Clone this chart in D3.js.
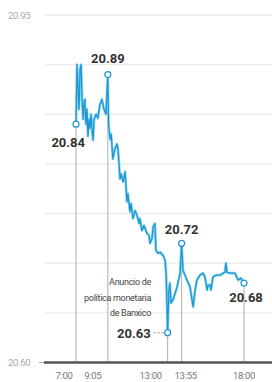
<!DOCTYPE html>
<html><head><meta charset="utf-8">
<script src="https://cdn.jsdelivr.net/npm/d3@7"></script>
<style>
html,body{margin:0;padding:0;background:#fff;}
svg{display:block;}
text{font-family:Roboto, "Liberation Sans", sans-serif;}
</style></head>
<body>
<div id="chart"></div>
<script>
// ---- data ----
const times = ["7:00","7:04","7:08","7:12","7:16","7:20","7:24","7:28","7:31","7:35","7:39","7:43","7:47","7:51","7:55","7:59",
"8:03","8:07","8:11","8:19","8:26","8:34","8:42","8:50","8:58","9:05","9:08","9:14","9:18","9:25","9:33","9:41","9:45","9:53","9:57",
"10:05","10:13","10:20","10:24","10:32","10:36","10:44","10:52","11:00","11:08","11:11","11:19","11:27","11:39","11:47","11:51","11:59",
"12:03","12:10","12:14","12:22","12:30","12:42","12:50","12:54","12:58","13:00","13:05","13:09","13:13","13:21","13:37","13:49","13:55",
"14:00","14:08","14:16","14:28","14:40","14:48","14:55","15:07","15:19","15:27","15:35","15:39","15:47","15:50","15:58","16:10","16:26",
"16:38","16:45","16:49","16:53","17:05","17:25","17:37","17:48","18:00","18:12"];
const values = [20.84,20.90,20.875,20.855,20.895,20.90,20.865,20.845,20.86,20.865,20.84,20.855,20.828,20.845,20.836,20.85,
20.834,20.824,20.845,20.85,20.846,20.86,20.865,20.855,20.85,20.89,20.84,20.825,20.83,20.805,20.815,20.82,20.815,20.785,20.79,
20.782,20.792,20.762,20.77,20.752,20.76,20.745,20.753,20.748,20.74,20.745,20.733,20.738,20.73,20.728,20.72,20.725,
20.737,20.74,20.713,20.71,20.711,20.708,20.703,20.69,20.653,20.63,20.673,20.68,20.66,20.663,20.676,20.69,20.72,
20.693,20.688,20.683,20.676,20.656,20.673,20.683,20.688,20.69,20.686,20.673,20.678,20.678,20.673,20.686,20.688,20.688,
20.69,20.691,20.70,20.691,20.69,20.69,20.683,20.685,20.68,20.68];
const markTimes = ["7:00","9:05","13:00","13:55","18:00"];
const markValues = [20.84,20.89,20.63,20.72,20.68];
const markLabels = ["20.84","20.89","20.63","20.72","20.68"];
const yTicks = [20.60,20.65,20.70,20.75,20.80,20.85,20.90,20.95];
const yTickLabels = ["20.60","20.95"];
const annotation = ["Anuncio de","política monetaria","de Banxico"];

// ---- layout ----
const W = 272, H = 382;
const parse = d3.timeParse("%H:%M");
const x = d3.scaleTime().domain([parse("7:00"), parse("18:00")]).range([76, 244]);
const y = d3.scaleLinear().domain([20.60, 20.95]).range([362.5, 15]);
const svg = d3.select("#chart").append("svg").attr("width", W).attr("height", H);

// gridlines
svg.append("g").selectAll("line").data(yTicks.slice(1)).join("line")
  .attr("x1", 45).attr("x2", W).attr("y1", d => y(d)).attr("y2", d => y(d))
  .attr("stroke", "#ececec").attr("stroke-width", 1.4);

// y labels
svg.append("g").selectAll("text").data(yTickLabels).join("text")
  .attr("x", 8).attr("y", d => y(+d) + 3.5)
  .attr("font-size", 9.5).attr("fill", "#a8a8a8").attr("letter-spacing", -0.3)
  .text(d => d);
svg.append("line").attr("x1", 39).attr("x2", 44).attr("y1", y(20.60)).attr("y2", y(20.60))
  .attr("stroke", "#aaa").attr("stroke-width", 1);

// vertical drop lines
const marks = markTimes.map((t, i) => ({t: parse(t), v: markValues[i], label: markLabels[i], name: t}));
svg.append("g").selectAll("line").data(marks).join("line")
  .attr("x1", d => x(d.t)).attr("x2", d => x(d.t))
  .attr("y1", d => y(d.v)).attr("y2", y(20.60))
  .attr("stroke", "#9a9a9a").attr("stroke-width", 0.8);

// baseline
svg.append("line").attr("x1", 44).attr("x2", W).attr("y1", y(20.60)).attr("y2", y(20.60))
  .attr("stroke", "#555").attr("stroke-width", 2.6);

// x labels
const xLabelShift = {"7:00": -12, "9:05": -15, "13:00": -17, "13:55": 4, "18:00": 0};
svg.append("g").selectAll("text").data(marks).join("text")
  .attr("x", d => x(d.t) + xLabelShift[d.name]).attr("y", 379)
  .attr("text-anchor", "middle").attr("font-size", 9.5).attr("fill", "#777")
  .attr("letter-spacing", -0.3)
  .text(d => d.name);

// series line
const data = times.map((t, i) => ({t: parse(t), v: values[i]}));
const line = d3.line().x(d => x(d.t)).y(d => y(d.v));
svg.append("path").datum(data).attr("d", line)
  .attr("fill", "none").attr("stroke", "#7fd3f2").attr("stroke-width", 2.6).attr("stroke-linejoin", "round");
svg.append("path").datum(data).attr("d", line)
  .attr("fill", "none").attr("stroke", "#1e95d2").attr("stroke-width", 1.2).attr("stroke-linejoin", "round");

// dashed connector for 20.63
const m63 = marks[2];
svg.append("line").attr("x1", x(m63.t) - 14).attr("x2", x(m63.t) - 3)
  .attr("y1", y(m63.v)).attr("y2", y(m63.v))
  .attr("stroke", "#888").attr("stroke-width", 0.9).attr("stroke-dasharray", "2,2");

// circles
svg.append("g").selectAll("circle").data(marks).join("circle")
  .attr("cx", d => x(d.t)).attr("cy", d => y(d.v)).attr("r", 3)
  .attr("fill", "#fff").attr("stroke", "#1e95d2").attr("stroke-width", 1.2);

// value labels
const labelPos = {
  "7:00": {dx: 9, dy: 23, anchor: "end"},
  "9:05": {dx: 0, dy: -12, anchor: "middle"},
  "13:00": {dx: -17, dy: 5, anchor: "end"},
  "13:55": {dx: 0, dy: -9, anchor: "middle"},
  "18:00": {dx: 2, dy: 19, anchor: "middle"}
};
svg.append("g").selectAll("text").data(marks).join("text")
  .attr("x", d => x(d.t) + labelPos[d.name].dx)
  .attr("y", d => y(d.v) + labelPos[d.name].dy)
  .attr("text-anchor", d => labelPos[d.name].anchor)
  .attr("font-size", 13).attr("font-weight", "bold").attr("fill", "#333")
  .text(d => d.label);

// annotation
svg.append("g").selectAll("text").data(annotation).join("text")
  .attr("x", 151).attr("y", (d, i) => 285 + i * 15.5)
  .attr("text-anchor", "end").attr("font-size", 9).attr("fill", "#444")
  .attr("letter-spacing", -0.3)
  .text(d => d);
</script>
</body></html>
